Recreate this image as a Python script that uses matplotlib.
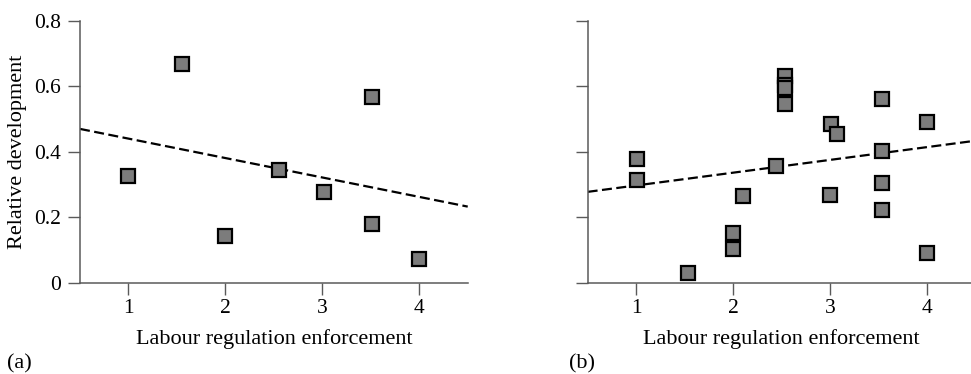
import numpy as np
import matplotlib.pyplot as plt

plt.rcParams['font.family'] = ['Liberation Serif', 'DejaVu Serif']

# panel (a)
x_a = [1.0, 1.55, 2.0, 2.55, 3.02, 3.51, 3.51, 4.0]
y_a = [0.325, 0.667, 0.143, 0.344, 0.278, 0.566, 0.180, 0.074]
trend_a_y = [0.470, 0.233]

# panel (b)
x_b = [1.01, 1.01, 1.53, 2.0, 2.0, 2.1, 2.44, 2.54, 2.54, 2.54, 2.54,
       3.01, 3.07, 3.0, 3.54, 3.54, 3.54, 3.54, 4.0, 4.0]
y_b = [0.379, 0.313, 0.030, 0.152, 0.104, 0.265, 0.356, 0.546, 0.631, 0.605, 0.595,
       0.485, 0.456, 0.268, 0.560, 0.403, 0.306, 0.223, 0.490, 0.091]
trend_b_y = [0.278, 0.434]

trend_x = [0.5, 4.5]
yticks = [0, 0.2, 0.4, 0.6, 0.8]
ytick_labels = ['0', '0.2', '0.4', '0.6', '0.8']
xticks = [1, 2, 3, 4]

fig = plt.figure(figsize=(9.71, 3.74), dpi=100)
ax_a = fig.add_axes([0.0824, 0.2433, 0.3993, 0.7013])
ax_b = fig.add_axes([0.6052, 0.2433, 0.3995, 0.7013])

spine_col = '#5a5a5a'
for ax, xs, ys, ty in [(ax_a, x_a, y_a, trend_a_y), (ax_b, x_b, y_b, trend_b_y)]:
    ax.plot(trend_x, ty, color='black', lw=1.6, dashes=(4.5, 2.0), zorder=2)
    ax.plot(xs, ys, 's', ms=10.4, mfc='#7c7c7c', mec='black', mew=1.6,
            clip_on=False, zorder=3)
    ax.set_xlim(0.5, 4.5)
    ax.set_ylim(0, 0.8)
    ax.set_xticks(xticks)
    ax.set_yticks(yticks)
    for s in ['top', 'right']:
        ax.spines[s].set_visible(False)
    for s in ['left', 'bottom']:
        ax.spines[s].set_color(spine_col)
        ax.spines[s].set_linewidth(1.1)
    ax.tick_params(direction='out', length=8.5, width=1.0, color=spine_col,
                   labelsize=15.5, pad=3)
    ax.tick_params(axis='y', pad=5)
    ax.set_xlabel('Labour regulation enforcement', fontsize=16, labelpad=8)

ax_a.set_yticklabels(ytick_labels)
ax_b.set_yticklabels([])
ax_a.set_ylabel('Relative development', fontsize=16, labelpad=5)

fig.text(0.007, 0.028, '(a)', fontsize=16, va='center', ha='left')
fig.text(0.586, 0.028, '(b)', fontsize=16, va='center', ha='left')

fig.savefig('out.png', dpi=100)
